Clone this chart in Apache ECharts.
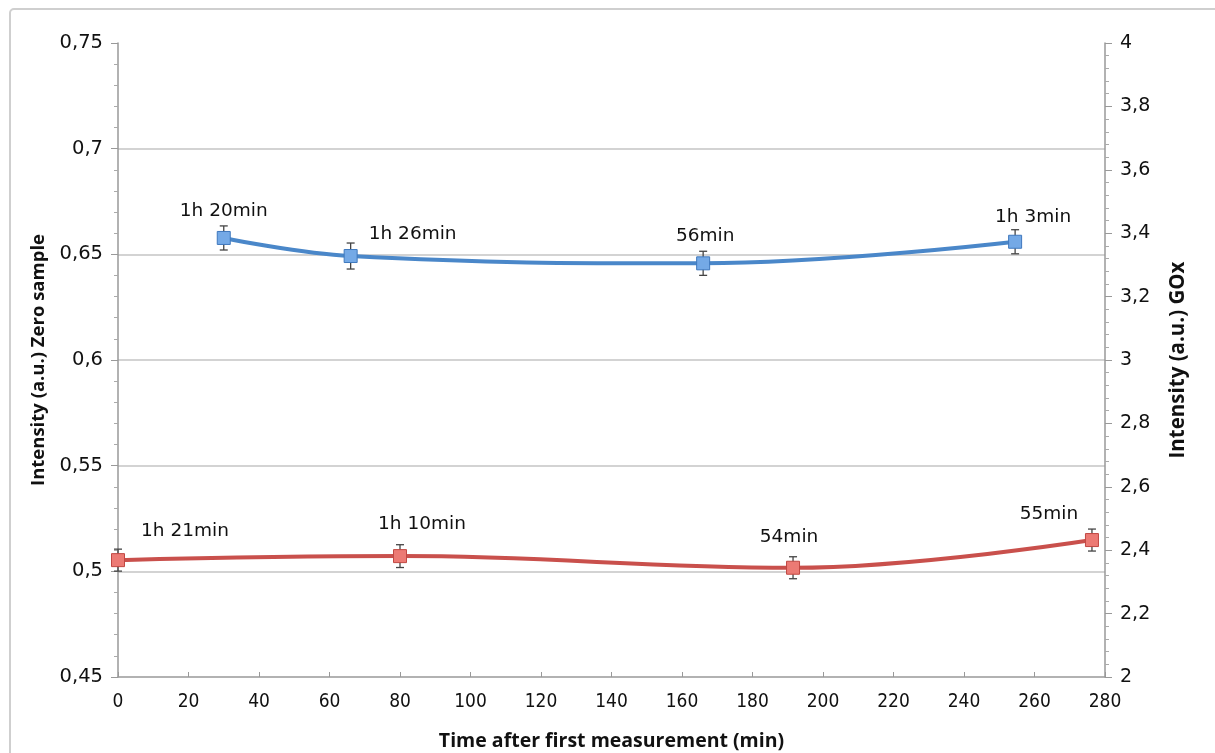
<!DOCTYPE html>
<html>
<head>
<meta charset="utf-8">
<script src="https://cdn.jsdelivr.net/npm/echarts@6/dist/echarts.min.js"></script>
<style>
html,body{margin:0;padding:0;background:#fff;}
#chart{width:1215px;height:753px;}
</style>
</head>
<body>
<div id="chart"></div>
<script>
// GOx series (right axis)
var goxTime = [30, 66, 166, 254.5];
var goxVal = [3.385, 3.328, 3.305, 3.373];
var goxErr = [0.038, 0.041, 0.038, 0.038];
var goxLabels = ['1h 20min', '1h 26min', '56min', '1h 3min'];

// zero sample series (left axis)
var zeroTime = [0, 80, 191.5, 276.3];
var zeroVal = [0.5053, 0.5072, 0.5017, 0.5148];
var zeroErr = [0.0052, 0.0054, 0.0052, 0.0052];
var zeroLabels = ['1h 21min', '1h 10min', '54min', '55min'];

// label offsets (px), style only
var goxLabelOff = [[0,-27],[62,-22],[2,-27],[18,-25]];
var zeroLabelOff = [[67,-29],[22,-32],[-4,-31],[-43,-26]];

var font = '"DejaVu Sans", sans-serif';
var fontCond = '"DejaVu Sans Condensed", "Liberation Sans Narrow", "DejaVu Sans", sans-serif';
var fontTitle = '"Open Sans", "DejaVu Sans", sans-serif';

function points(xs, ys, labels, offs){
    var out = [];
    for(var i = 0; i < xs.length; i++){
        out.push({
            value: [xs[i], ys[i]],
            label: {formatter: labels[i], offset: offs[i]}
        });
    }
    return out;
}
function errData(xs, ys, es){
    var out = [];
    for(var i = 0; i < xs.length; i++){
        out.push([xs[i], ys[i] - es[i], ys[i] + es[i]]);
    }
    return out;
}
function errRender(params, api){
    var x = api.value(0);
    var lo = api.coord([x, api.value(1)]);
    var hi = api.coord([x, api.value(2)]);
    var w = 4;
    var st = {stroke: '#444', lineWidth: 1.3};
    return {
        type: 'group',
        children: [
            {type: 'line', shape: {x1: lo[0], y1: lo[1], x2: hi[0], y2: hi[1]}, style: st},
            {type: 'line', shape: {x1: lo[0]-w, y1: lo[1], x2: lo[0]+w, y2: lo[1]}, style: st},
            {type: 'line', shape: {x1: hi[0]-w, y1: hi[1], x2: hi[0]+w, y2: hi[1]}, style: st}
        ]
    };
}

var myChart = echarts.init(document.getElementById('chart'));
var option = {
    animation: false,
    backgroundColor: '#fff',
    graphic: [{
        type: 'rect',
        shape: {x: 10, y: 9, width: 1230, height: 770, r: 4},
        style: {fill: 'none', stroke: '#cfcfcf', lineWidth: 2},
        silent: true
    }],
    grid: {left: 118, right: 110, top: 43, bottom: 76, containLabel: false, outerBoundsMode: 'none'},
    xAxis: {
        type: 'value',
        min: 0, max: 280, interval: 20,
        name: 'Time after first measurement (min)',
        nameLocation: 'middle',
        nameGap: 54,
        nameTextStyle: {fontFamily: fontTitle, fontSize: 19.5, fontWeight: 'bold', color: '#111'},
        axisLine: {show: true, lineStyle: {color: '#999', width: 1.5}},
        axisTick: {show: true, inside: true, length: 5, lineStyle: {color: '#999'}},
        axisLabel: {fontFamily: fontCond, fontSize: 19, color: '#111', margin: 16},
        splitLine: {show: false}
    },
    yAxis: [{
        type: 'value',
        position: 'left',
        min: 0.45, max: 0.75, interval: 0.05,
        name: 'Intensity (a.u.) Zero sample',
        nameLocation: 'middle',
        nameGap: 70,
        nameTextStyle: {fontFamily: fontTitle, fontSize: 18.5, fontWeight: 'bold', color: '#111'},
        axisLine: {show: true, lineStyle: {color: '#999', width: 1.5}},
        axisTick: {show: true, length: 7, lineStyle: {color: '#999'}},
        minorTick: {show: true, splitNumber: 5, length: 4, lineStyle: {color: '#aaa'}},
        axisLabel: {fontFamily: font, fontSize: 19.5, color: '#111', margin: 15,
            formatter: function(v){ return (+v.toFixed(2)).toString().replace('.', ','); }},
        splitLine: {show: true, showMaxLine: false, showMinLine: false, lineStyle: {color: '#c4c4c4', width: 1.5}}
    }, {
        type: 'value',
        position: 'right',
        min: 2, max: 4, interval: 0.2,
        name: 'Intensity (a.u.) GOx',
        nameLocation: 'middle',
        nameGap: 63,
        nameTextStyle: {fontFamily: fontTitle, fontSize: 20.5, fontWeight: 'bold', color: '#111'},
        axisLine: {show: true, lineStyle: {color: '#999', width: 1.5}},
        axisTick: {show: true, length: 7, lineStyle: {color: '#999'}},
        minorTick: {show: true, splitNumber: 5, length: 4, lineStyle: {color: '#aaa'}},
        axisLabel: {fontFamily: font, fontSize: 19, color: '#111', margin: 15,
            formatter: function(v){ return (+v.toFixed(1)).toString().replace('.', ','); }},
        splitLine: {show: false}
    }],
    series: [{
        name: 'GOx err',
        type: 'custom',
        yAxisIndex: 1,
        renderItem: errRender,
        encode: {x: 0, y: [1, 2]},
        data: errData(goxTime, goxVal, goxErr),
        z: 1
    }, {
        name: 'Zero err',
        type: 'custom',
        yAxisIndex: 0,
        renderItem: errRender,
        encode: {x: 0, y: [1, 2]},
        data: errData(zeroTime, zeroVal, zeroErr),
        z: 1
    }, {
        name: 'GOx',
        type: 'line',
        yAxisIndex: 1,
        smooth: 0.4,
        symbol: 'rect',
        symbolSize: 13,
        lineStyle: {color: '#4a87c9', width: 4},
        itemStyle: {color: '#74a9e6', borderColor: '#3f78bd', borderWidth: 1},
        label: {show: true, position: 'inside', fontFamily: font, fontSize: 18.5, color: '#111'},
        data: points(goxTime, goxVal, goxLabels, goxLabelOff),
        z: 3
    }, {
        name: 'Zero sample',
        type: 'line',
        yAxisIndex: 0,
        smooth: 0.4,
        symbol: 'rect',
        symbolSize: 13,
        lineStyle: {color: '#c9504c', width: 4},
        itemStyle: {color: '#ec7a74', borderColor: '#c14843', borderWidth: 1},
        label: {show: true, position: 'inside', fontFamily: font, fontSize: 18.5, color: '#111'},
        data: points(zeroTime, zeroVal, zeroLabels, zeroLabelOff),
        z: 3
    }]
};
myChart.setOption(option, true);
</script>
</body>
</html>
